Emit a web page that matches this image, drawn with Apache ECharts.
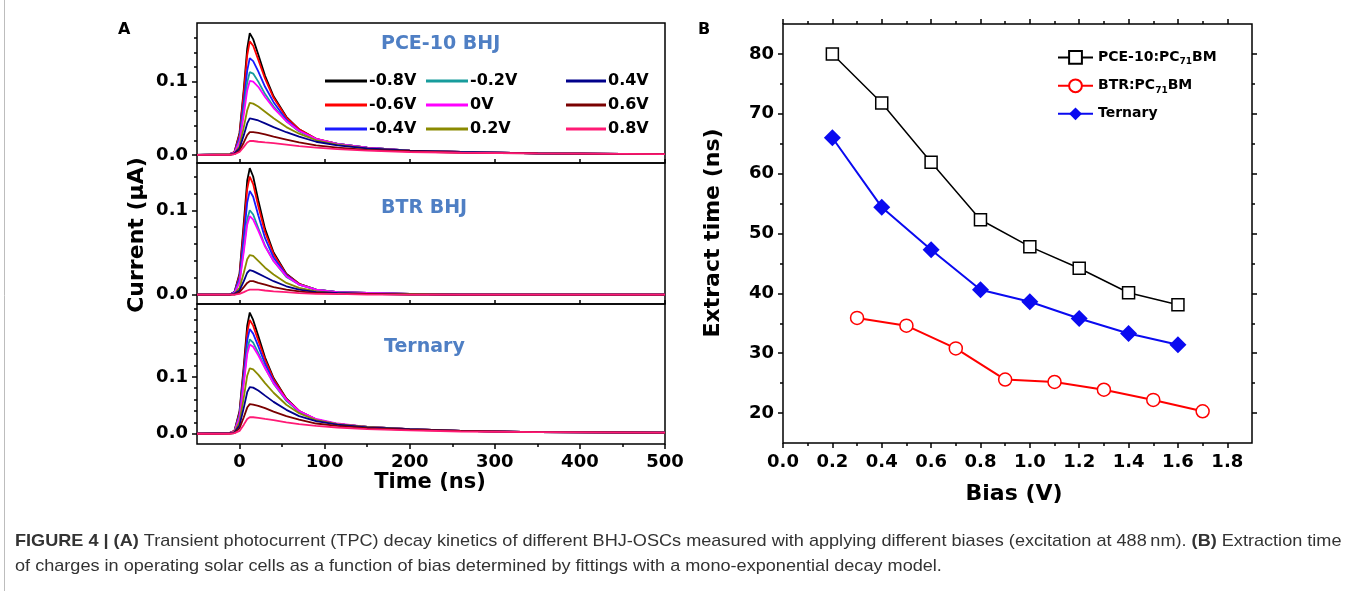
<!DOCTYPE html>
<html>
<head>
<meta charset="utf-8">
<script src="https://cdn.jsdelivr.net/npm/echarts@6/dist/echarts.min.js"></script>
<style>
html, body { margin: 0; padding: 0; background: #fff; }
#chart { width: 1351px; height: 591px; }
</style>
</head>
<body>
<div id="chart"></div>
<script>
// ---- panel A: transient photocurrent ----
var biasNames = ['-0.8V', '-0.6V', '-0.4V', '-0.2V', '0V', '0.2V', '0.4V', '0.6V', '0.8V'];
var biasColors = ['#000000', '#ff0000', '#1a1aff', '#179c9c', '#ff00ff', '#8a8a00', '#00008b', '#7a0000', '#ff1a75'];
var timeNs = [-50, -12, -6, 0, 5, 9, 12, 16, 22, 30, 40, 55, 70, 90, 115, 150, 200, 260, 350, 500];

var pceCurrent = [
    [0, 0.001, 0.004, 0.030, 0.090, 0.145, 0.166, 0.158, 0.137, 0.108, 0.080, 0.052, 0.035, 0.022, 0.015, 0.010, 0.006, 0.004, 0.002, 0.001],
    [0, 0.001, 0.004, 0.028, 0.085, 0.136, 0.155, 0.149, 0.130, 0.104, 0.078, 0.051, 0.035, 0.022, 0.015, 0.010, 0.006, 0.004, 0.002, 0.001],
    [0, 0.001, 0.003, 0.024, 0.072, 0.115, 0.132, 0.128, 0.114, 0.093, 0.072, 0.048, 0.033, 0.021, 0.015, 0.010, 0.006, 0.004, 0.002, 0.001],
    [0, 0.001, 0.003, 0.020, 0.062, 0.099, 0.113, 0.111, 0.100, 0.083, 0.066, 0.046, 0.032, 0.021, 0.015, 0.010, 0.006, 0.004, 0.002, 0.001],
    [0, 0.001, 0.003, 0.018, 0.055, 0.088, 0.101, 0.100, 0.093, 0.079, 0.064, 0.046, 0.033, 0.022, 0.015, 0.010, 0.006, 0.004, 0.002, 0.001],
    [0, 0.001, 0.002, 0.012, 0.038, 0.061, 0.071, 0.070, 0.066, 0.059, 0.050, 0.038, 0.029, 0.020, 0.014, 0.009, 0.006, 0.004, 0.002, 0.001],
    [0, 0, 0.002, 0.009, 0.027, 0.043, 0.050, 0.049, 0.047, 0.043, 0.038, 0.031, 0.025, 0.018, 0.013, 0.009, 0.006, 0.004, 0.002, 0.001],
    [0, 0, 0.001, 0.006, 0.017, 0.027, 0.031, 0.031, 0.030, 0.028, 0.025, 0.021, 0.017, 0.013, 0.010, 0.007, 0.005, 0.003, 0.002, 0.001],
    [0, 0, 0.001, 0.004, 0.011, 0.017, 0.019, 0.019, 0.018, 0.017, 0.016, 0.014, 0.012, 0.010, 0.008, 0.006, 0.004, 0.003, 0.002, 0.001]
];
var btrCurrent = [
    [0, 0, 0.003, 0.025, 0.085, 0.135, 0.150, 0.140, 0.112, 0.078, 0.050, 0.025, 0.013, 0.006, 0.003, 0.002, 0.001, 0, 0, 0],
    [0, 0, 0.003, 0.023, 0.078, 0.125, 0.140, 0.131, 0.105, 0.074, 0.048, 0.024, 0.013, 0.006, 0.003, 0.002, 0.001, 0, 0, 0],
    [0, 0, 0.003, 0.020, 0.068, 0.109, 0.123, 0.116, 0.094, 0.067, 0.044, 0.023, 0.012, 0.006, 0.003, 0.002, 0.001, 0, 0, 0],
    [0, 0, 0.002, 0.016, 0.055, 0.089, 0.100, 0.095, 0.079, 0.058, 0.040, 0.021, 0.012, 0.006, 0.003, 0.002, 0.001, 0, 0, 0],
    [0, 0, 0.002, 0.015, 0.051, 0.083, 0.093, 0.089, 0.076, 0.057, 0.040, 0.022, 0.012, 0.006, 0.003, 0.002, 0.001, 0, 0, 0],
    [0, 0, 0.001, 0.008, 0.026, 0.042, 0.047, 0.046, 0.040, 0.032, 0.024, 0.014, 0.008, 0.004, 0.002, 0.001, 0.001, 0, 0, 0],
    [0, 0, 0.001, 0.005, 0.016, 0.026, 0.029, 0.028, 0.025, 0.021, 0.016, 0.010, 0.006, 0.003, 0.002, 0.001, 0, 0, 0, 0],
    [0, 0, 0, 0.003, 0.009, 0.014, 0.016, 0.016, 0.014, 0.012, 0.009, 0.006, 0.004, 0.002, 0.001, 0.001, 0, 0, 0, 0],
    [0, 0, 0, 0.001, 0.003, 0.005, 0.006, 0.006, 0.006, 0.005, 0.004, 0.003, 0.002, 0.001, 0.001, 0, 0, 0, 0, 0]
];
var ternaryCurrent = [
    [0, 0.001, 0.005, 0.040, 0.120, 0.190, 0.213, 0.200, 0.172, 0.134, 0.098, 0.062, 0.040, 0.025, 0.017, 0.012, 0.008, 0.005, 0.003, 0.002],
    [0, 0.001, 0.005, 0.037, 0.112, 0.178, 0.200, 0.190, 0.164, 0.130, 0.096, 0.061, 0.040, 0.025, 0.017, 0.012, 0.008, 0.005, 0.003, 0.002],
    [0, 0.001, 0.004, 0.034, 0.103, 0.164, 0.184, 0.176, 0.154, 0.123, 0.092, 0.059, 0.039, 0.025, 0.017, 0.012, 0.008, 0.005, 0.003, 0.002],
    [0, 0.001, 0.004, 0.031, 0.093, 0.148, 0.166, 0.160, 0.142, 0.116, 0.088, 0.058, 0.039, 0.025, 0.017, 0.012, 0.008, 0.005, 0.003, 0.002],
    [0, 0.001, 0.004, 0.029, 0.088, 0.140, 0.157, 0.153, 0.138, 0.115, 0.089, 0.060, 0.040, 0.026, 0.018, 0.012, 0.008, 0.005, 0.003, 0.002],
    [0, 0.001, 0.003, 0.021, 0.064, 0.102, 0.115, 0.113, 0.104, 0.089, 0.072, 0.051, 0.036, 0.024, 0.017, 0.012, 0.008, 0.005, 0.003, 0.002],
    [0, 0.001, 0.002, 0.015, 0.046, 0.073, 0.082, 0.081, 0.076, 0.067, 0.056, 0.042, 0.031, 0.022, 0.016, 0.011, 0.008, 0.005, 0.003, 0.002],
    [0, 0, 0.001, 0.010, 0.029, 0.046, 0.052, 0.051, 0.049, 0.045, 0.039, 0.031, 0.025, 0.018, 0.014, 0.010, 0.007, 0.005, 0.003, 0.002],
    [0, 0, 0.001, 0.005, 0.016, 0.026, 0.029, 0.029, 0.028, 0.026, 0.024, 0.020, 0.017, 0.014, 0.011, 0.008, 0.006, 0.004, 0.003, 0.002]
];
var timeTicks = [0, 100, 200, 300, 400, 500];
var timeMinorTicks = [50, 150, 250, 350, 450];
var currentTicks = [0, 0.1];

// ---- panel B: extraction time ----
var biasPce = [0.2, 0.4, 0.6, 0.8, 1.0, 1.2, 1.4, 1.6];
var extractPce = [80.0, 71.8, 61.9, 52.3, 47.8, 44.2, 40.1, 38.1];
var biasBtr = [0.3, 0.5, 0.7, 0.9, 1.1, 1.3, 1.5, 1.7];
var extractBtr = [35.9, 34.6, 30.8, 25.6, 25.2, 23.9, 22.2, 20.3];
var biasTernary = [0.2, 0.4, 0.6, 0.8, 1.0, 1.2, 1.4, 1.6];
var extractTernary = [66.0, 54.4, 47.3, 40.6, 38.6, 35.8, 33.3, 31.4];
var biasTicks = [0, 0.2, 0.4, 0.6, 0.8, 1.0, 1.2, 1.4, 1.6, 1.8];
var biasMinorTicks = [0.1, 0.3, 0.5, 0.7, 0.9, 1.1, 1.3, 1.5, 1.7];
var extractTicks = [20, 30, 40, 50, 60, 70, 80];
var extractMinorTicks = [25, 35, 45, 55, 65, 75];

var FONT = 'DejaVu Sans';
var chart = echarts.init(document.getElementById('chart'));

function pairs(xs, ys) {
    var out = [];
    for (var i = 0; i < xs.length; i++) out.push([xs[i], ys[i]]);
    return out;
}

function tickAxis(opt) {
    // axis that only draws ticks (and optionally labels) at given values
    return {
        type: 'value',
        gridIndex: opt.grid,
        position: opt.position,
        min: opt.min,
        max: opt.max,
        axisLine: {show: false, onZero: false},
        splitLine: {show: false},
        axisTick: {
            show: true,
            inside: !!opt.inside,
            length: opt.len,
            customValues: opt.ticks,
            lineStyle: {color: '#000', width: 1.5}
        },
        axisLabel: opt.labels ? {
            show: true,
            customValues: opt.labels,
            margin: opt.margin || 8,
            fontFamily: FONT,
            fontWeight: 'bold',
            fontSize: 18,
            color: '#000',
            formatter: opt.fmt
        } : {show: false}
    };
}

var fmt1 = function (v) { return v.toFixed(1); };
var fmt0 = function (v) { return String(Math.round(v)); };

var panelsA = [
    {data: pceCurrent, min: -0.011, max: 0.18, minors: [0.02, 0.04, 0.06, 0.08, 0.12, 0.14, 0.16]},
    {data: btrCurrent, min: -0.011, max: 0.156, minors: [0.02, 0.04, 0.06, 0.08, 0.12, 0.14]},
    {data: ternaryCurrent, min: -0.018, max: 0.228, minors: [0.02, 0.04, 0.06, 0.08, 0.12, 0.14, 0.16, 0.18, 0.2, 0.22]}
];

var gridStyle = {show: true, borderColor: '#000', borderWidth: 1.5, backgroundColor: 'transparent'};
var grids = [
    Object.assign({left: 197, top: 23, width: 468, height: 140}, gridStyle),
    Object.assign({left: 197, top: 163, width: 468, height: 141}, gridStyle),
    Object.assign({left: 197, top: 304, width: 468, height: 140}, gridStyle),
    Object.assign({left: 783, top: 24, width: 469, height: 419}, gridStyle)
];

var xAxes = [
    tickAxis({grid: 0, position: 'bottom', min: -50, max: 500, ticks: timeTicks, len: 4, inside: true}),
    tickAxis({grid: 1, position: 'bottom', min: -50, max: 500, ticks: timeTicks, len: 4, inside: true}),
    tickAxis({grid: 2, position: 'bottom', min: -50, max: 500, ticks: timeTicks, len: 5, labels: timeTicks, fmt: fmt0, margin: 9}),
    tickAxis({grid: 2, position: 'bottom', min: -50, max: 500, ticks: timeMinorTicks, len: 3}),
    tickAxis({grid: 3, position: 'bottom', min: 0, max: 1.9, ticks: biasTicks, len: 5, labels: biasTicks, fmt: fmt1, margin: 10}),
    tickAxis({grid: 3, position: 'bottom', min: 0, max: 1.9, ticks: biasMinorTicks, len: 3}),
    tickAxis({grid: 3, position: 'top', min: 0, max: 1.9, ticks: biasTicks, len: 5}),
    tickAxis({grid: 3, position: 'top', min: 0, max: 1.9, ticks: biasMinorTicks, len: 3})
];

var yAxes = [];
panelsA.forEach(function (p, i) {
    yAxes.push(tickAxis({grid: i, position: 'left', min: p.min, max: p.max, ticks: currentTicks, len: 5, labels: currentTicks, fmt: fmt1, margin: 9}));
    yAxes.push(tickAxis({grid: i, position: 'left', min: p.min, max: p.max, ticks: p.minors, len: 3}));
});
yAxes.push(tickAxis({grid: 3, position: 'left', min: 15, max: 85, ticks: extractTicks, len: 5, labels: extractTicks, fmt: fmt0, margin: 9}));
yAxes.push(tickAxis({grid: 3, position: 'left', min: 15, max: 85, ticks: extractMinorTicks, len: 3}));
yAxes.push(tickAxis({grid: 3, position: 'right', min: 15, max: 85, ticks: extractTicks, len: 5}));
yAxes.push(tickAxis({grid: 3, position: 'right', min: 15, max: 85, ticks: extractMinorTicks, len: 3}));

var series = [];
panelsA.forEach(function (p, i) {
    p.data.forEach(function (vals, k) {
        series.push({
            type: 'line',
            name: biasNames[k],
            xAxisIndex: i,
            yAxisIndex: i * 2,
            data: pairs(timeNs, vals),
            showSymbol: false,
            symbol: 'none',
            lineStyle: {color: biasColors[k], width: 1.8},
            itemStyle: {color: biasColors[k]},
            silent: true
        });
    });
});

series.push({
    type: 'line', name: 'PCE-10:PC71BM', xAxisIndex: 4, yAxisIndex: 6,
    data: pairs(biasPce, extractPce),
    symbol: 'rect', symbolSize: 12,
    itemStyle: {color: '#fff', borderColor: '#000', borderWidth: 1.5},
    lineStyle: {color: '#000', width: 1.5}, z: 3
});
series.push({
    type: 'line', name: 'BTR:PC71BM', xAxisIndex: 4, yAxisIndex: 6,
    data: pairs(biasBtr, extractBtr),
    symbol: 'circle', symbolSize: 13,
    itemStyle: {color: '#fff', borderColor: '#ff0000', borderWidth: 1.5},
    lineStyle: {color: '#ff0000', width: 2}, z: 3
});
series.push({
    type: 'line', name: 'Ternary', xAxisIndex: 4, yAxisIndex: 6,
    data: pairs(biasTernary, extractTernary),
    symbol: 'diamond', symbolSize: 17,
    itemStyle: {color: '#0a0af0', borderColor: '#0a0af0', borderWidth: 0},
    lineStyle: {color: '#0a0af0', width: 2}, z: 3
});

function legendColumn(names, left, w) {
    return {
        data: names,
        orient: 'vertical',
        left: left,
        top: 67,
        icon: 'rect',
        itemWidth: w,
        itemHeight: 3,
        itemGap: 6,
        selectedMode: false,
        textStyle: {fontFamily: FONT, fontWeight: 'bold', fontSize: 16, color: '#000', lineHeight: 18, padding: [0, 0, 0, -3]}
    };
}

var subFmt = function (name) {
    if (name.indexOf('PC71BM') < 0) return '{n|' + name + '}';
    return '{n|' + name.replace('PC71BM', 'PC') + '}{s|71}{n|BM}';
};

var option = {
    animation: false,
    backgroundColor: '#fff',
    grid: grids,
    xAxis: xAxes,
    yAxis: yAxes,
    legend: [
        legendColumn(biasNames.slice(0, 3), 320, 42),
        legendColumn(biasNames.slice(3, 6), 421, 42),
        legendColumn(biasNames.slice(6, 9), 561, 40)
    ].concat([{
            data: ['PCE-10:PC71BM', 'BTR:PC71BM', 'Ternary'],
            orient: 'vertical',
            left: 1052,
            top: 45,
            itemWidth: 35,
            itemHeight: 16,
            itemGap: 12,
            selectedMode: false,
            formatter: subFmt,
            textStyle: {
                color: '#000',
                rich: {
                    n: {fontFamily: FONT, fontWeight: 'bold', fontSize: 14, color: '#000'},
                    s: {fontFamily: FONT, fontWeight: 'bold', fontSize: 9, color: '#000', padding: [9, 0, 0, 0]}
                }
            }
        }]),
    series: series,
    graphic: [
        {type: 'line', shape: {x1: 4.5, y1: 0, x2: 4.5, y2: 591}, style: {stroke: '#bdbdbd', lineWidth: 1}},
        {type: 'text', x: 118, y: 22, style: {text: 'A', font: 'bold 16px "DejaVu Sans"', fill: '#000'}},
        {type: 'text', x: 698, y: 22, style: {text: 'B', font: 'bold 16px "DejaVu Sans"', fill: '#000'}},
        {type: 'text', x: 381, y: 35, style: {text: 'PCE-10 BHJ', font: 'bold 19px "DejaVu Sans"', fill: '#4f7fc4'}},
        {type: 'text', x: 381, y: 199, style: {text: 'BTR BHJ', font: 'bold 19px "DejaVu Sans"', fill: '#4f7fc4'}},
        {type: 'text', x: 384, y: 338, style: {text: 'Ternary', font: 'bold 19px "DejaVu Sans"', fill: '#4f7fc4'}},
        {type: 'text', x: 137, y: 235, rotation: Math.PI / 2,
            style: {text: 'Current (\u03bcA)', font: 'bold 22px "DejaVu Sans"', fill: '#000', align: 'center', verticalAlign: 'middle', textAlign: 'center', textVerticalAlign: 'middle'}},
        {type: 'text', x: 430, y: 483,
            style: {text: 'Time (ns)', font: 'bold 21px "DejaVu Sans"', fill: '#000', align: 'center', verticalAlign: 'middle', textAlign: 'center', textVerticalAlign: 'middle'}},
        {type: 'text', x: 713, y: 233, rotation: Math.PI / 2,
            style: {text: 'Extract time (ns)', font: 'bold 22px "DejaVu Sans"', fill: '#000', align: 'center', verticalAlign: 'middle', textAlign: 'center', textVerticalAlign: 'middle'}},
        {type: 'text', x: 1014, y: 494,
            style: {text: 'Bias (V)', font: 'bold 22px "DejaVu Sans"', fill: '#000', align: 'center', verticalAlign: 'middle', textAlign: 'center', textVerticalAlign: 'middle'}},
        {type: 'text', x: 15, y: 533, scaleX: 1.065, style: {
            text: '{b|FIGURE 4 | (A)} Transient photocurrent (TPC) decay kinetics of different BHJ-OSCs measured with applying different biases (excitation at 488\u202fnm). {b|(B)} Extraction time',
            font: '17px "Liberation Sans"', fill: '#333',
            rich: {b: {fontFamily: 'Liberation Sans', fontWeight: 'bold', fontSize: 17, color: '#111'}}
        }},
        {type: 'text', x: 15, y: 558, scaleX: 1.065, style: {
            text: 'of charges in operating solar cells as a function of bias determined by fittings with a mono-exponential decay model.',
            font: '17px "Liberation Sans"', fill: '#333'
        }}
    ]
};

chart.setOption(option);
</script>
</body>
</html>
